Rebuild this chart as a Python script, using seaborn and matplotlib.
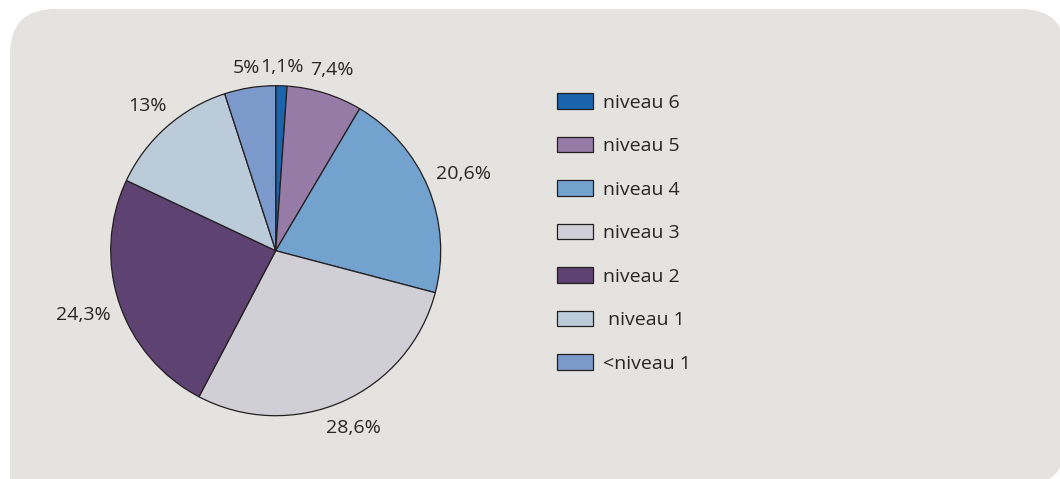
import matplotlib
matplotlib.use("Agg")
import matplotlib.pyplot as plt
from matplotlib.patches import FancyBboxPatch, Rectangle
import numpy as np
import seaborn as sns

# Data (share of pupils per level, %)
categories = ["niveau 6", "niveau 5", "niveau 4", "niveau 3", "niveau 2", " niveau 1", "<niveau 1"]
shares = [1.1, 7.4, 20.6, 28.6, 24.3, 13.0, 5.0]
share_labels = ["1,1%", "7,4%", "20,6%", "28,6%", "24,3%", "13%", "5%"]
colors = ["#1a64ad", "#957ba6", "#72a2cd", "#d0cfd6", "#5e4271", "#bccbda", "#7b9acb"]

BG = "#e4e3e0"
TEXT = "#262626"
EDGE = "#231f20"
FONT_SIZE = 14

sns.set_theme(style="white")
plt.rcParams["font.family"] = ["Open Sans", "DejaVu Sans"]

W, H = 1060, 479
fig = plt.figure(figsize=(W / 100, H / 100), dpi=100, facecolor="white")

# Rounded grey panel behind the chart (inches)
panel = FancyBboxPatch(
    (0.10, -0.07), 10.56, 4.77,
    boxstyle="round,pad=0,rounding_size=0.45",
    transform=fig.dpi_scale_trans, facecolor=BG, edgecolor="none", zorder=0,
)
fig.add_artist(panel)
fig.add_artist(Rectangle((0.10, -0.07), 0.6, 0.6, transform=fig.dpi_scale_trans,
                         facecolor=BG, edgecolor="none", zorder=0))

# Pie axes: centre and radius in pixels
cx, cy, r = 275.7, H - 250.7, 165
ax = fig.add_axes([(cx - r) / W, (cy - r) / H, 2 * r / W, 2 * r / H])
ax.set_axis_off()

wedges, _ = ax.pie(
    shares,
    colors=colors,
    startangle=90,
    counterclock=False,
    wedgeprops=dict(edgecolor=EDGE, linewidth=0.9),
)
ax.set_xlim(-1, 1)
ax.set_ylim(-1, 1)

# Percentage labels placed just outside each slice
fig.canvas.draw()
renderer = fig.canvas.get_renderer()
gap = 9
origin = ax.transData.transform((0, 0))
for w, lab in zip(wedges, share_labels):
    mid = np.deg2rad((w.theta1 + w.theta2) / 2)
    ux, uy = np.cos(mid), np.sin(mid)
    t = ax.text(0, 0, lab, ha="center", va="center", fontsize=FONT_SIZE, color=TEXT)
    bb = t.get_window_extent(renderer)
    d = r + gap + bb.width / 2 * abs(ux) + bb.height / 2 * abs(uy)
    pos = ax.transData.inverted().transform(origin + d * np.array([ux, uy]))
    t.set_position(pos)

fig.legend(
    wedges, categories,
    loc="upper left", bbox_to_anchor=(557 / W, 1 - 93 / H),
    frameon=False, fontsize=FONT_SIZE, labelcolor=TEXT,
    handlelength=1.85, handleheight=0.875, handletextpad=0.5,
    labelspacing=1.28, borderpad=0, borderaxespad=0,
)

fig.savefig("out.png", dpi=100, facecolor="white")
